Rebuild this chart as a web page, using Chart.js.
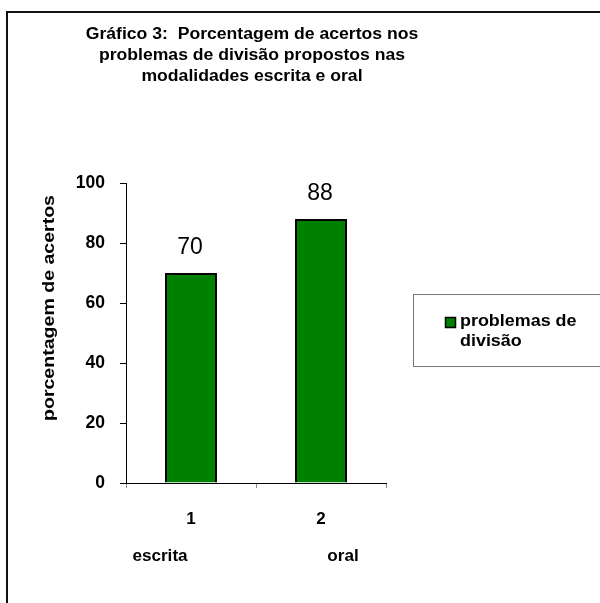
<!DOCTYPE html>
<html>
<head>
<meta charset="utf-8">
<script src="https://cdn.jsdelivr.net/npm/chart.js@4"></script>
<style>
  html, body { margin: 0; padding: 0; background: #fff; }
  canvas { display: block; }
</style>
</head>
<body>
<canvas id="grafico3" width="600" height="603"></canvas>
<script>
// dados do gráfico
const categorias = ['1', '2'];
const modalidades = ['escrita', 'oral'];
const acertos = [70, 88];
const ticksY = [0, 20, 40, 60, 80, 100];
const titulo = ['Gráfico 3:  Porcentagem de acertos nos', 'problemas de divisão propostos nas', 'modalidades escrita e oral'];
const tituloEixoY = 'porcentagem de acertos';
const legendaTexto = ['problemas de', 'divisão'];

const FONTE = '"Liberation Sans", Arial, sans-serif';

// texto levemente esticado na horizontal, como no original
function texto(ctx, t, x, y, fonte, esticar, alinhar) {
  ctx.save();
  ctx.translate(x, y);
  ctx.scale(esticar, 1);
  ctx.font = fonte;
  ctx.textAlign = alinhar || 'center';
  ctx.fillText(t, 0, 0);
  ctx.restore();
}

// moldura, títulos, legenda e rótulos extras
const extras = {
  id: 'extras',
  afterDraw(chart) {
    const ctx = chart.ctx;
    const x = chart.scales.x;
    ctx.save();

    // moldura
    ctx.strokeStyle = '#111';
    ctx.lineWidth = 2;
    ctx.beginPath();
    ctx.moveTo(7, 603);
    ctx.lineTo(7, 12);
    ctx.lineTo(600, 12);
    ctx.stroke();

    ctx.fillStyle = '#000';
    ctx.textBaseline = 'middle';

    // título
    titulo.forEach((t, i) => texto(ctx, t, 252, 35 + i * 21, 'bold 16px ' + FONTE, 1.1));

    // título do eixo Y
    ctx.save();
    ctx.translate(49, 308);
    ctx.rotate(-Math.PI / 2);
    texto(ctx, tituloEixoY, 0, 0, 'bold 17px ' + FONTE, 1.15);
    ctx.restore();

    // rótulos dos valores
    const meta = chart.getDatasetMeta(0);
    meta.data.forEach((bar, i) => {
      texto(ctx, String(acertos[i]), bar.x - 1, bar.y - 25, '23px ' + FONTE, 1);
    });

    // modalidades abaixo dos números
    const desloc = [-31, 22];
    modalidades.forEach((m, i) => {
      texto(ctx, m, x.getPixelForValue(i) + desloc[i], 557, 'bold 16px ' + FONTE, 1.07);
    });

    // legenda
    ctx.strokeStyle = '#777';
    ctx.lineWidth = 1;
    ctx.strokeRect(413.5, 294.5, 190, 72);
    ctx.fillStyle = '#008000';
    ctx.fillRect(445, 317, 11, 11);
    ctx.strokeStyle = '#000';
    ctx.lineWidth = 1.5;
    ctx.strokeRect(445.5, 317.5, 10, 10);
    ctx.fillStyle = '#000';
    legendaTexto.forEach((t, i) => texto(ctx, t, 460, 322 + i * 20, 'bold 16px ' + FONTE, 1.12, 'left'));

    ctx.restore();
  }
};

new Chart(document.getElementById('grafico3'), {
  type: 'bar',
  data: {
    labels: categorias,
    datasets: [{
      label: 'problemas de divisão',
      data: acertos,
      backgroundColor: '#008000',
      borderColor: '#000',
      borderWidth: 2,
      barPercentage: 0.4,
      categoryPercentage: 1
    }]
  },
  options: {
    responsive: false,
    animation: false,
    layout: { padding: { left: 0, top: 183, right: 214, bottom: 0 } },
    plugins: {
      legend: { display: false },
      title: { display: false },
      tooltip: { enabled: false }
    },
    scales: {
      x: {
        afterFit(s) { s.height = 120; },
        border: { display: true, color: '#000', width: 1 },
        grid: { display: true, offset: true, drawOnChartArea: false, color: '#888', tickLength: 5 },
        ticks: { color: '#000', font: { family: FONTE, size: 17, weight: 'bold' }, padding: 21 }
      },
      y: {
        min: 0,
        max: 100,
        afterFit(s) { s.width = 126; },
        afterBuildTicks(s) { s.ticks = ticksY.map(v => ({ value: v })); },
        border: { display: true, color: '#000', width: 1 },
        grid: { display: true, drawOnChartArea: false, color: '#000', tickLength: 6 },
        ticks: { color: '#000', font: { family: FONTE, size: 17.5, weight: 'bold' }, padding: 15 }
      }
    }
  },
  plugins: [extras]
});
</script>
</body>
</html>
